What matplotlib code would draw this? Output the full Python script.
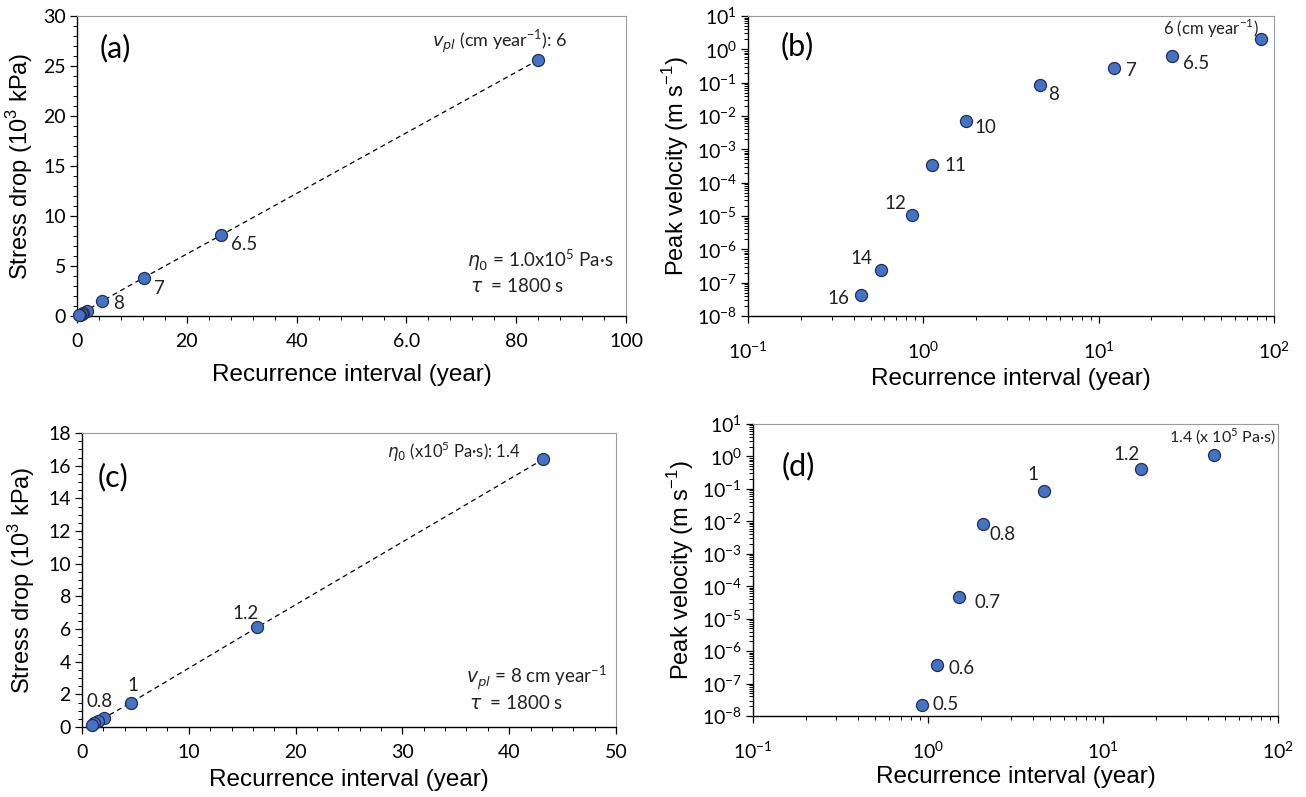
import numpy as np
import matplotlib
matplotlib.use("Agg")
import matplotlib.pyplot as plt
from matplotlib.ticker import MultipleLocator, LogLocator, FixedLocator, NullFormatter, FuncFormatter

# ---- data: plate velocity series (panels a, b) ----
vpl_labels = ["6", "6.5", "7", "8", "10", "11", "12", "14", "16"]
rec_vpl = [84.0, 26.3, 12.2, 4.6, 1.75, 1.12, 0.86, 0.57, 0.44]
stress_vpl = [25.6, 8.1, 3.85, 1.5, 0.55, 0.35, 0.25, 0.15, 0.08]
peak_vpl = [2.0, 0.62, 0.28, 0.088, 0.0072, 3.3e-4, 1.1e-5, 2.4e-7, 4.2e-8]

# ---- data: viscosity series (panels c, d) ----
eta_labels = ["1.4", "1.2", "1", "0.8", "0.7", "0.6", "0.5"]
rec_eta = [43.2, 16.4, 4.6, 2.05, 1.5, 1.13, 0.92]
stress_eta = [16.4, 6.1, 1.5, 0.55, 0.35, 0.22, 0.12]
peak_eta = [1.1, 0.4, 0.088, 0.0080, 4.8e-5, 3.8e-7, 2.2e-8]

xticks_a = [0, 20, 40, 60, 80, 100]
xticklabels_a = ["0", "20", "40", "6.0", "80", "100"]

TICK_FONT = "Lato"
LABEL_FONT = "Liberation Sans"
FACE = "#4472C4"
EDGE = "#1F2F57"
TXT = "#222222"

plt.rcParams["mathtext.fontset"] = "dejavusans"

fig = plt.figure(figsize=(13.06, 7.97), dpi=100)
W, H = 1306, 797


def make_ax(left, top, right, bottom):
    return fig.add_axes([left / W, 1 - bottom / H, (right - left) / W, (bottom - top) / H])


def style(ax, xpad=7):
    for s in ["top", "right"]:
        ax.spines[s].set_color("#9a9a9a")
        ax.spines[s].set_linewidth(0.8)
    for s in ["left", "bottom"]:
        ax.spines[s].set_color("black")
        ax.spines[s].set_linewidth(1.0)
    ax.tick_params(which="both", direction="out", top=False, right=False)
    ax.tick_params(which="major", length=5, width=0.9, labelsize=14, pad=3)
    ax.tick_params(which="minor", length=3, width=0.7)
    ax.tick_params(axis="x", which="major", pad=xpad)
    for lab in ax.get_xticklabels() + ax.get_yticklabels():
        lab.set_family(TICK_FONT)


def log_fmt(v, pos):
    e = int(round(np.log10(v)))
    return r"$\mathregular{10^{%d}}$" % e


def log_axes(ax):
    ax.set_xscale("log")
    ax.set_yscale("log")
    ax.set_xlim(0.1, 100)
    ax.set_ylim(1e-8, 10)
    ax.xaxis.set_major_locator(LogLocator(base=10, numticks=10))
    ax.yaxis.set_major_locator(LogLocator(base=10, numticks=12))
    ax.xaxis.set_minor_locator(LogLocator(base=10, subs=np.arange(2, 10), numticks=12))
    ax.yaxis.set_minor_locator(LogLocator(base=10, subs=np.arange(2, 10), numticks=12))
    ax.xaxis.set_minor_formatter(NullFormatter())
    ax.yaxis.set_minor_formatter(NullFormatter())
    ax.xaxis.set_major_formatter(FuncFormatter(log_fmt))
    ax.yaxis.set_major_formatter(FuncFormatter(log_fmt))


def labels(ax, ylab, xpad=10, ypad=6):
    ax.set_xlabel("Recurrence interval (year)", family=LABEL_FONT, fontsize=17.5, labelpad=xpad)
    ax.set_ylabel(ylab, family=LABEL_FONT, fontsize=17, labelpad=ypad)


def scatter(ax, x, y):
    ax.scatter(x, y, s=75, facecolor=FACE, edgecolor=EDGE, linewidth=0.9, zorder=3, clip_on=False)


def note(ax, text, x, y, dx, dy, ha="left", va="center", size=13.5):
    ax.annotate(text, (x, y), xytext=(dx, dy), textcoords="offset points",
                ha=ha, va=va, fontsize=size, family=TICK_FONT, color=TXT)


def corner(ax, text, x, y):
    ax.text(x, y, text, transform=ax.transAxes, va="center", fontsize=13.5, family=TICK_FONT, color=TXT)


def panel(ax, text, x, y):
    ax.text(x, y, text, transform=ax.transAxes, ha="center", va="center", fontsize=22, family=TICK_FONT)


# ---------------- (a) ----------------
ax = make_ax(77, 16, 626, 316)
ax.plot(rec_vpl, stress_vpl, ls=(0, (4, 3)), color="black", lw=0.9, zorder=2)
scatter(ax, rec_vpl, stress_vpl)
ax.set_xlim(0, 100)
ax.set_ylim(0, 30)
ax.xaxis.set_major_locator(FixedLocator(xticks_a))
ax.set_xticklabels(xticklabels_a)
ax.xaxis.set_minor_locator(MultipleLocator(4))
ax.yaxis.set_major_locator(MultipleLocator(5))
ax.yaxis.set_minor_locator(MultipleLocator(1))
style(ax)
labels(ax, r"Stress drop (10$^{\mathregular{3}}$ kPa)")
panel(ax, "(a)", 0.069, 0.893)
note(ax, r"$\mathit{v}_{pl}$ (cm year$^{\mathregular{-1}}$): 6", rec_vpl[0], stress_vpl[0], -28, 13,
     ha="center", size=13)
note(ax, "6.5", rec_vpl[1], stress_vpl[1], 7, -7)
note(ax, "7", rec_vpl[2], stress_vpl[2], 7, -8)
note(ax, "8", rec_vpl[3], stress_vpl[3], 8, -2)
corner(ax, r"$\mathit{\eta}_0$ = 1.0x10$^{\mathregular{5}}$ Pa·s", 0.71, 0.187)
corner(ax, r"$\mathit{\tau}$  = 1800 s", 0.715, 0.10)

# ---------------- (b) ----------------
ax = make_ax(748, 16, 1274, 316)
scatter(ax, rec_vpl, peak_vpl)
log_axes(ax)
style(ax, xpad=13)
labels(ax, r"Peak velocity (m s$^{\mathregular{-1}}$)", xpad=4, ypad=4)
panel(ax, "(b)", 0.093, 0.90)
note(ax, r"6 (cm year$^{\mathregular{-1}}$)", rec_vpl[0], peak_vpl[0], -36, 8, ha="center", size=12)
note(ax, "6.5", rec_vpl[1], peak_vpl[1], 8, -5)
note(ax, "7", rec_vpl[2], peak_vpl[2], 9, -2)
note(ax, "8", rec_vpl[3], peak_vpl[3], 6, -7)
note(ax, "10", rec_vpl[4], peak_vpl[4], 6, -5)
note(ax, "11", rec_vpl[5], peak_vpl[5], 9, 0)
note(ax, "12", rec_vpl[6], peak_vpl[6], -4, 8, ha="right")
note(ax, "14", rec_vpl[7], peak_vpl[7], -6, 8, ha="right")
note(ax, "16", rec_vpl[8], peak_vpl[8], -8, -2, ha="right")

# ---------------- (c) ----------------
ax = make_ax(82, 433, 616, 727)
ax.plot(rec_eta, stress_eta, ls=(0, (4, 3)), color="black", lw=0.9, zorder=2)
scatter(ax, rec_eta, stress_eta)
ax.set_xlim(0, 50)
ax.set_ylim(0, 18)
ax.xaxis.set_major_locator(MultipleLocator(10))
ax.xaxis.set_minor_locator(MultipleLocator(2))
ax.yaxis.set_major_locator(MultipleLocator(2))
ax.yaxis.set_minor_locator(MultipleLocator(0.5))
style(ax)
labels(ax, r"Stress drop (10$^{\mathregular{3}}$ kPa)", xpad=6, ypad=8)
panel(ax, "(c)", 0.058, 0.85)
note(ax, r"$\mathit{\eta}_0$ (x10$^{\mathregular{5}}$ Pa·s): 1.4", rec_eta[0], stress_eta[0], -16, 5,
     ha="right", size=12)
note(ax, "1.2", rec_eta[1], stress_eta[1], -8, 10, ha="center")
note(ax, "1", rec_eta[2], stress_eta[2], 1, 12, ha="center")
note(ax, "0.8", rec_eta[3], stress_eta[3], -3, 12, ha="center")
corner(ax, r"$\mathit{v}_{pl}$ = 8 cm year$^{\mathregular{-1}}$", 0.72, 0.167)
corner(ax, r"$\mathit{\tau}$  = 1800 s", 0.725, 0.08)

# ---------------- (d) ----------------
ax = make_ax(753, 424, 1278, 716)
scatter(ax, rec_eta, peak_eta)
log_axes(ax)
style(ax, xpad=13)
labels(ax, r"Peak velocity (m s$^{\mathregular{-1}}$)", xpad=3, ypad=4)
panel(ax, "(d)", 0.086, 0.856)
note(ax, r"1.4 (x 10$^{\mathregular{5}}$ Pa·s)", rec_eta[0], peak_eta[0], 6, 13, ha="center", size=11.5)
note(ax, "1.2", rec_eta[1], peak_eta[1], -10, 11, ha="center")
note(ax, "1", rec_eta[2], peak_eta[2], -8, 12, ha="center")
note(ax, "0.8", rec_eta[3], peak_eta[3], 5, -7)
note(ax, "0.7", rec_eta[4], peak_eta[4], 11, -4)
note(ax, "0.6", rec_eta[5], peak_eta[5], 8, -3)
note(ax, "0.5", rec_eta[6], peak_eta[6], 8, 0)

fig.savefig("out.png", dpi=100)
